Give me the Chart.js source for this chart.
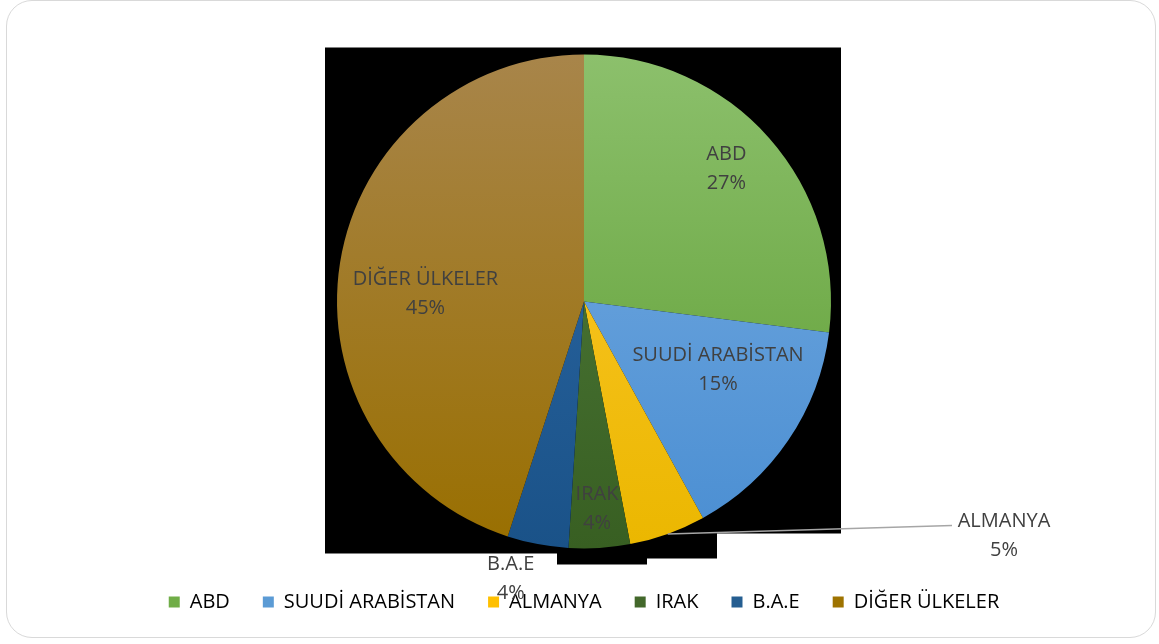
<!DOCTYPE html>
<html>
<head>
<meta charset="utf-8">
<script src="https://cdn.jsdelivr.net/npm/chart.js@4/dist/chart.umd.min.js"></script>
<style>
  html, body { margin: 0; padding: 0; background: #fff; }
  #wrap { position: relative; width: 1159px; height: 644px; overflow: hidden; }
  #card { position: absolute; left: 6px; top: 0; width: 1150px; height: 638px; border: 1.5px solid #d9d9d9; border-radius: 26px; box-sizing: border-box; }
  canvas { position: absolute; left: 0; top: 0; }
</style>
</head>
<body>
<div id="wrap">
  <div id="card"></div>
  <canvas id="chart" width="1159" height="644"></canvas>
</div>
<script>
const categories = ['ABD', 'SUUDİ ARABİSTAN', 'ALMANYA', 'IRAK', 'B.A.E', 'DİĞER ÜLKELER']
const shares = [27, 15, 5, 4, 4, 45]
const colorsTop = ['#8cc06c', '#78ade2', '#ffca33', '#527f3e', '#2f6ba8', '#a8854a']
const colorsBottom = ['#5c9c30', '#4a8ed2', '#ebb700', '#385f22', '#1a5288', '#996f00']
const legendColors = ['#70ad47', '#5b9bd5', '#ffc000', '#43682b', '#255e91', '#9e7300']

const FONT = '"Open Sans", sans-serif'
const FONT_SIZE = 20
const R = 247

// where each label sits: fraction of radius along the slice middle, plus a nudge
const labelPlacement = [
  { f: 0.79, dx: -4, dy: -4 },
  { f: 0.656, dx: 0, dy: -23 },
  { outside: true, tx: 420, ty: 234, lx: 368, ly: 224 },
  { f: 0.84, dx: 0, dy: 0 },
  { f: 1.13, dx: -21, dy: 3 },
  { f: 0.65, dx: 0, dy: 17 }
]

const backdrop = {
  id: 'backdrop',
  beforeDatasetsDraw(chart) {
    const arc = chart.getDatasetMeta(0).data[0]
    if (!arc) return
    const { x: cx, y: cy } = arc
    const c = chart.ctx
    c.save()
    c.fillStyle = '#000'
    c.beginPath()
    c.moveTo(cx - 259, cy - 254)
    c.lineTo(cx + 257, cy - 254)
    c.lineTo(cx + 257, cy + 232)
    c.lineTo(cx + 133, cy + 232)
    c.lineTo(cx + 133, cy + 257)
    c.lineTo(cx + 63, cy + 257)
    c.lineTo(cx + 63, cy + 263)
    c.lineTo(cx - 27, cy + 263)
    c.lineTo(cx - 27, cy + 252)
    c.lineTo(cx - 259, cy + 252)
    c.closePath()
    c.fill()
    c.restore()
  }
}

const sliceLabels = {
  id: 'sliceLabels',
  afterDatasetsDraw(chart) {
    const c = chart.ctx
    const meta = chart.getDatasetMeta(0)
    c.save()
    c.font = FONT_SIZE + 'px ' + FONT
    c.fillStyle = '#404040'
    c.textAlign = 'center'
    c.textBaseline = 'middle'
    meta.data.forEach((arc, i) => {
      const p = arc.getProps(['x', 'y', 'startAngle', 'endAngle', 'outerRadius'], true)
      const mid = (p.startAngle + p.endAngle) / 2
      const place = labelPlacement[i]
      let tx, ty
      if (place.outside) {
        const ex = p.x + Math.cos(mid) * p.outerRadius
        const ey = p.y + Math.sin(mid) * p.outerRadius
        c.strokeStyle = '#a6a6a6'
        c.lineWidth = 1.5
        c.beginPath()
        c.moveTo(ex, ey)
        c.lineTo(p.x + place.lx, p.y + place.ly)
        c.stroke()
        tx = p.x + place.tx
        ty = p.y + place.ty
      } else {
        const r = p.outerRadius * place.f
        tx = p.x + Math.cos(mid) * r + place.dx
        ty = p.y + Math.sin(mid) * r + place.dy
      }
      c.fillText(categories[i], tx, ty - 14.5)
      c.fillText(shares[i] + '%', tx, ty + 14.5)
    })
    c.restore()
  }
}

function sliceGradient(ctx) {
  const chart = ctx.chart
  const area = chart.chartArea
  const i = ctx.dataIndex
  if (!area) return legendColors[i]
  const cy = (area.top + area.bottom) / 2
  const g = chart.ctx.createLinearGradient(0, cy - R, 0, cy + R)
  g.addColorStop(0, colorsTop[i])
  g.addColorStop(1, colorsBottom[i])
  return g
}

new Chart(document.getElementById('chart'), {
  type: 'pie',
  data: {
    labels: categories,
    datasets: [{
      data: shares,
      backgroundColor: sliceGradient,
      borderWidth: 0
    }]
  },
  options: {
    responsive: false,
    animation: false,
    radius: R,
    layout: { padding: { left: 9, top: 44, bottom: 22 } },
    plugins: {
      tooltip: { enabled: false },
      legend: {
        position: 'bottom',
        labels: {
          boxWidth: 11,
          boxHeight: 11,
          padding: 33,
          color: '#595959',
          font: { family: FONT, size: FONT_SIZE },
          generateLabels(chart) {
            return categories.map((name, i) => ({
              text: name,
              fillStyle: legendColors[i],
              strokeStyle: legendColors[i],
              lineWidth: 0,
              index: i
            }))
          }
        }
      }
    }
  },
  plugins: [backdrop, sliceLabels]
})
</script>
</body>
</html>
